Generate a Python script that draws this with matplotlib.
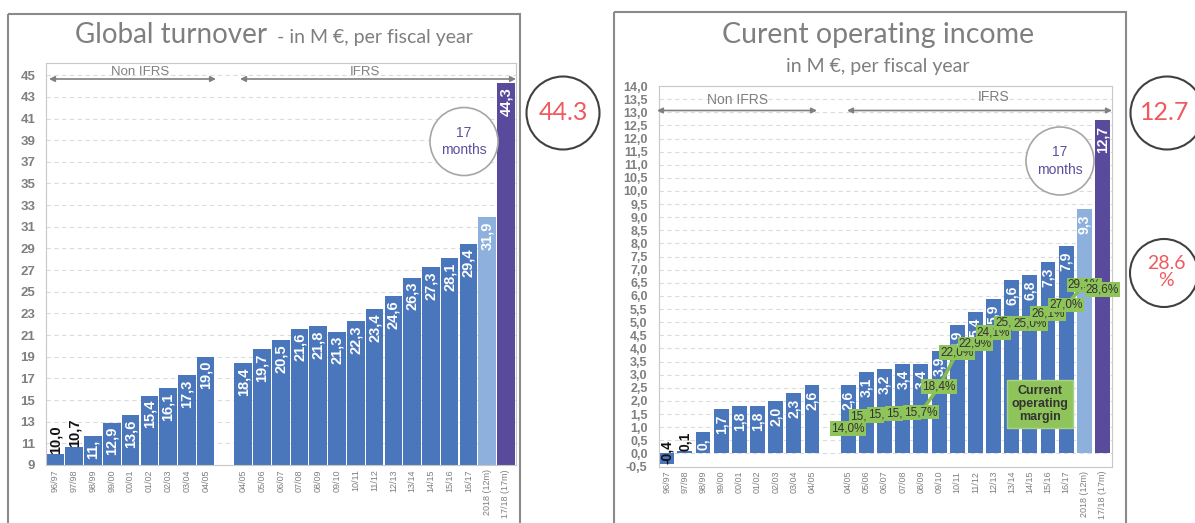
import numpy as np
import matplotlib
matplotlib.use('Agg')
import matplotlib.pyplot as plt
from matplotlib.patches import Circle, Rectangle

plt.rcParams['font.family'] = ['Liberation Sans', 'DejaVu Sans']

# data (M EUR per fiscal year)
years_non_ifrs = ['96/97', '97/98', '98/99', '99/00', '00/01', '01/02', '02/03', '03/04', '04/05']
years_ifrs = ['04/05', '05/06', '06/07', '07/08', '08/09', '09/10', '10/11', '11/12',
              '12/13', '13/14', '14/15', '15/16', '16/17', '2018 (12m)', '17/18 (17m)']
turnover_non_ifrs = [10.0, 10.7, 11.7, 12.9, 13.6, 15.4, 16.1, 17.3, 19.0]
turnover_ifrs = [18.4, 19.7, 20.5, 21.6, 21.8, 21.3, 22.3, 23.4, 24.6, 26.3, 27.3, 28.1, 29.4, 31.9, 44.3]
income_non_ifrs = [-0.4, 0.1, 0.8, 1.7, 1.8, 1.8, 2.0, 2.3, 2.6]
income_ifrs = [2.6, 3.1, 3.2, 3.4, 3.4, 3.9, 4.9, 5.4, 5.9, 6.6, 6.8, 7.3, 7.9, 9.3, 12.7]
margin_ifrs = [14.0, 15.3, 15.5, 15.6, 15.7, 18.4, 22.0, 22.9, 24.1, 25.1, 25.0, 26.1, 27.0, 29.1, 28.6]
turnover_ticks = list(range(9, 46, 2))
income_ticks = list(np.arange(-0.5, 14.01, 0.5))

BLUE = '#4a76bb'
LIGHT = '#8db0dc'
PURPLE = '#5a4a9c'
GRAY = '#7f7f7f'
GREEN = '#8fc45a'
RED = '#ef5a5f'


def fmt(v):
    return '{:.1f}'.format(v).replace('.', ',')


def bar_chart(ax, non_ifrs, ifrs, width, lab_size, lab_off, min_inside, min_full, ylim):
    x_non = np.arange(len(non_ifrs))
    x_ifrs = np.arange(len(non_ifrs) + 1, len(non_ifrs) + 1 + len(ifrs))
    xs = list(x_non) + list(x_ifrs)
    vals = list(non_ifrs) + list(ifrs)
    cols = [BLUE] * (len(vals) - 2) + [LIGHT, PURPLE]
    ax.bar(xs, vals, width=width, color=cols, zorder=2)
    y0 = max(ylim[0], 0)
    for x, v in zip(xs, vals):
        visible = v - y0 if v > 0 else -v
        if visible < min_inside:
            # too short: black label sitting on the bar
            ax.text(x, v, fmt(v), rotation=90, ha='center', va='bottom', color='#111111',
                    fontsize=lab_size, fontweight='bold', zorder=3)
            continue
        lab = fmt(v)
        if visible < min_full:
            # excel drops the last character when the label does not fit
            lab = lab[:-1]
        ax.annotate(lab, xy=(x, v), xytext=(0, -lab_off), textcoords='offset points',
                    rotation=90, ha='center', va='top', color='white',
                    fontsize=lab_size, fontweight='bold', zorder=3)
    ax.set_xticks(xs)
    ax.set_xticklabels(years_non_ifrs + years_ifrs, rotation=90, fontsize=6.5, color=GRAY)
    ax.set_ylim(*ylim)
    ax.grid(axis='y', color='#dcdcdc', ls=(0, (4, 3)), lw=0.8, zorder=0)
    ax.tick_params(axis='both', length=0)
    ax.tick_params(axis='x', pad=3)
    ax.tick_params(axis='y', pad=8)
    for s in ax.spines.values():
        s.set_color('#c8c8c8')
    return x_ifrs


fig = plt.figure(figsize=(11.95, 5.23), dpi=100)

# left chart: turnover
ax1 = fig.add_axes([0.0389, 0.1109, 0.3933, 0.7681])
bar_chart(ax1, turnover_non_ifrs, turnover_ifrs, 0.94, 10.5, 3, 2.0, 3.0, (9, 46.1))
ax1.set_xlim(-0.48, 24.56)
ax1.set_yticks(turnover_ticks)
ax1.set_yticklabels([str(t) for t in turnover_ticks], fontsize=9.5, fontweight='bold', color=GRAY)

# right chart: operating income + margin
ax2 = fig.add_axes([0.5512, 0.1080, 0.3793, 0.7275])
x_ifrs = bar_chart(ax2, income_non_ifrs, income_ifrs, 0.82, 10, 4, 0.5, 1.0, (-0.5, 14.0))
ax2.set_xlim(-0.44, 24.52)
ax2.set_yticks(income_ticks)
ax2.set_yticklabels([fmt(t) for t in income_ticks], fontsize=9, fontweight='bold', color=GRAY)

ax3 = ax2.twinx()
ax3.set_ylim(10, 50)
ax3.set_yticks([])
for s in ax3.spines.values():
    s.set_visible(False)
ax3.plot(x_ifrs, margin_ifrs, color='#84bd4e', lw=2.5, zorder=2)
for x, m in zip(x_ifrs, margin_ifrs):
    ax3.text(x, m, fmt(m) + '%', ha='center', va='center', fontsize=8.5, color='#333333', zorder=3,
             bbox=dict(boxstyle='square,pad=0.1', fc=GREEN, ec='none'))

# overlay in pixel coordinates for frames, titles and notes
ov = fig.add_axes([0, 0, 1, 1], zorder=10)
ov.set_xlim(0, 1195)
ov.set_ylim(523, 0)
ov.axis('off')

ov.add_patch(Rectangle((8.5, 14), 511.5, 520, fill=False, ec='#8a8a8a', lw=1.5))
ov.add_patch(Rectangle((614, 12), 512, 520, fill=False, ec='#8a8a8a', lw=1.5))

ov.text(75, 43.3, 'Global turnover', family='Lato', fontsize=20, color=GRAY, va='baseline')
ov.text(277, 43.3, '- in M €, per fiscal year', family='Lato', fontsize=14, color=GRAY, va='baseline')
ov.text(878, 43.3, 'Curent operating income', family='Lato', fontsize=20.5, color=GRAY,
        ha='center', va='baseline')
ov.text(878, 71.7, 'in M €, per fiscal year', family='Lato', fontsize=14, color=GRAY,
        ha='center', va='baseline')

arrow = dict(arrowstyle='<|-|>', color='#808080', lw=1.2, mutation_scale=8, shrinkA=0, shrinkB=0)
for (xa, xb, y) in [(49, 216, 79), (240, 516, 79), (657, 817, 110.5), (847, 1112, 110.5)]:
    ov.annotate('', xy=(xb, y), xytext=(xa, y), arrowprops=arrow)
ov.text(140, 72, 'Non IFRS', ha='center', va='center', fontsize=9.5, color='#808080')
ov.text(365, 72, 'IFRS', ha='center', va='center', fontsize=9.5, color='#808080')
ov.text(738, 100, 'Non IFRS', ha='center', va='center', fontsize=10, color='#808080')
ov.text(994, 97, 'IFRS', ha='center', va='center', fontsize=10, color='#808080')

# 17 months notes
for (cx, cy) in [(464, 141.5), (1060, 161)]:
    ov.add_patch(Circle((cx, cy), 34, fc='white', ec='#a6a6a6', lw=1.2))
    ov.text(cx, cy, '17\nmonths', ha='center', va='center', fontsize=10, color='#5b4ea0',
            linespacing=1.35)

# highlighted figures
ov.add_patch(Circle((563, 113), 36.5, fc='none', ec='#404040', lw=1.5))
ov.text(563, 113, '44.3', family='Lato', fontsize=18, color=RED, ha='center', va='center')
ov.add_patch(Circle((1167, 113), 36.5, fc='none', ec='#404040', lw=1.5))
ov.text(1165, 113, '12.7', family='Lato', fontsize=18, color=RED, ha='center', va='center')
ov.add_patch(Circle((1164, 273), 34, fc='none', ec='#404040', lw=1.5))
ov.text(1166, 272, '28.6\n%', family='Lato', fontsize=14, color=RED, ha='center', va='center',
        linespacing=1.0)

ov.text(1040, 404, 'Current\noperating\nmargin', ha='center', va='center', fontsize=9,
        fontweight='bold', color='#333333', linespacing=1.15,
        bbox=dict(boxstyle='square,pad=0.35', fc=GREEN, ec='#a9d18e', lw=1))

fig.savefig('out.png', dpi=100)
